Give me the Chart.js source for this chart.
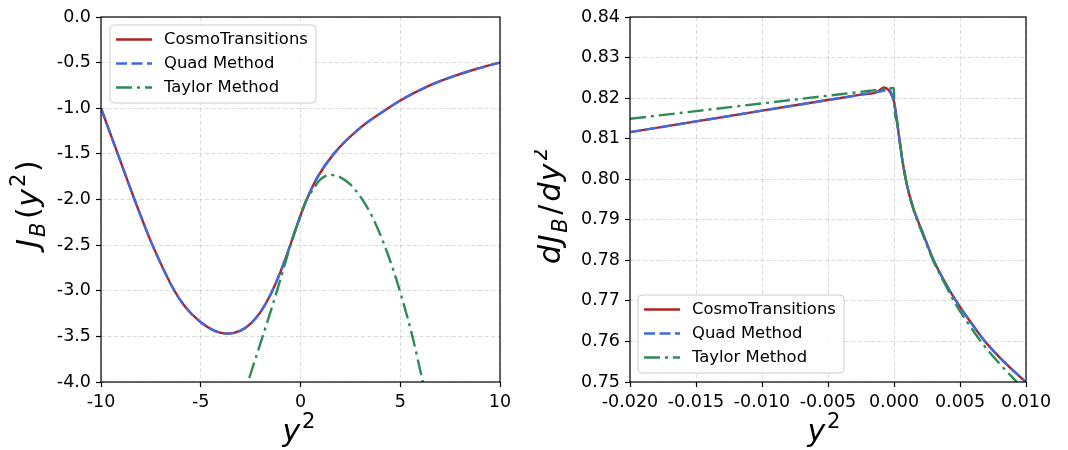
<!DOCTYPE html>
<html>
<head>
<meta charset="utf-8">
<script src="https://cdn.jsdelivr.net/npm/chart.js@4.4.1/dist/chart.umd.min.js"></script>
<style>
  body { margin: 0; background: #fff; width: 1068px; height: 450px; display: flex; }
  canvas { display: block; }
</style>
</head>
<body>
<canvas id="left" width="534" height="450"></canvas>
<canvas id="right" width="534" height="450"></canvas>
<script>
// ---- data ----
const seriesNames = ['CosmoTransitions', 'Quad Method', 'Taylor Method'];

// left panel: J_B(y^2)
const jbX  = [-10, -9.16, -8.32, -7.42, -6.32, -5.78, -5.03, -4.3, -3.68, -3.0, -2.5, -2.0, -1.5, -1.0, -0.5, 0, 0.3, 0.84, 1.67, 3.02, 4.39, 5.0, 6.37, 7.54, 8.8, 10];
const ctJb = [-1.0, -1.5, -2.0, -2.5, -3.0, -3.175, -3.34, -3.44, -3.47, -3.436, -3.361, -3.231, -3.041, -2.791, -2.491, -2.175, -2.005, -1.76, -1.5, -1.21, -1.0, -0.915, -0.76, -0.66, -0.57, -0.5];
const quadJb = [-1.0, -1.5, -2.0, -2.5, -3.0, -3.175, -3.34, -3.44, -3.47, -3.436, -3.361, -3.231, -3.041, -2.791, -2.491, -2.175, -2.005, -1.76, -1.5, -1.21, -1.0, -0.915, -0.76, -0.66, -0.57, -0.5];
const taylorX  = [-3.0, -2.63, -2.0, -1.5, -1.0, -0.5, 0, 0.3, 0.6, 1.0, 1.5, 2.0, 2.5, 3.07, 3.6, 4.15, 4.6, 5.03, 5.61, 6.08, 6.4];
const taylorJb = [-4.26, -4.0, -3.57, -3.23, -2.87, -2.5, -2.175, -2.005, -1.9, -1.78, -1.73, -1.757, -1.835, -1.99, -2.19, -2.467, -2.74, -3.038, -3.5, -3.95, -4.26];

// right panel: dJ_B/dy^2
const ctDX = [-0.02, -0.015, -0.01, -0.005, -0.0025, -0.0013, -0.00076, -0.00025, 0, 0.00018, 0.00038, 0.00063, 0.001, 0.0015, 0.0022, 0.003, 0.004, 0.0047, 0.0058, 0.0069, 0.0083, 0.01];
const ctDj = [0.8116, 0.81425, 0.8169, 0.81954, 0.82086, 0.8215, 0.8226, 0.8212, 0.8192, 0.8155, 0.8106, 0.8048, 0.7983, 0.7925, 0.7866, 0.78, 0.7738, 0.77, 0.7648, 0.76, 0.7551, 0.7499];
const quadDX = [-0.02, -0.015, -0.01, -0.005, -0.0025, -0.0013, -0.00035, 0, 0.00018, 0.00038, 0.00063, 0.001, 0.0015, 0.0022, 0.003, 0.004, 0.0047, 0.0058, 0.0069, 0.0083, 0.01];
const quadDj = [0.8116, 0.81425, 0.8169, 0.81954, 0.82086, 0.8215, 0.822, 0.8188, 0.8155, 0.8106, 0.8048, 0.7983, 0.7925, 0.7866, 0.78, 0.7738, 0.77, 0.7648, 0.76, 0.7551, 0.7499];
const taylorDX = [-0.02, -0.015, -0.01, -0.005, -0.002, -0.0005, 0, 0.00002, 0.0002, 0.0004, 0.00063, 0.001, 0.0015, 0.0022, 0.003, 0.004, 0.0047, 0.0058, 0.0066, 0.008, 0.0093, 0.0096];
const taylorDj = [0.8149, 0.8168, 0.8187, 0.8206, 0.82174, 0.8223, 0.8225, 0.8182, 0.8145, 0.8101, 0.8048, 0.7983, 0.7922, 0.7862, 0.7797, 0.7733, 0.769, 0.7636, 0.7599, 0.7545, 0.75, 0.7489];

// ---- style ----
const FONT = '"DejaVu Sans", sans-serif';
const colors = ['#b22222', '#4169e1', '#2e8b57'];
const dashes = [[], [11, 4.5], [16, 5, 3, 5]];

function pts(xs, ys) {
  return xs.map((x, i) => ({ x: x, y: ys[i] }));
}

function makeDatasets(sets) {
  return sets.map(([xs, ys], i) => ({
    label: seriesNames[i],
    data: pts(xs, ys),
    borderColor: colors[i],
    borderWidth: 2.4,
    borderDash: dashes[i],
    borderCapStyle: 'butt',
    pointRadius: 0,
    showLine: true,
    fill: false,
    cubicInterpolationMode: 'monotone',
    clip: 0,
    order: 3 - i
  }));
}

function fmt(digits) {
  return v => (Math.abs(v) < 1e-9 ? 0 : v).toFixed(digits);
}

function axis(min, max, step, digits, fit) {
  return {
    type: 'linear', min: min, max: max,
    ticks: {
      stepSize: step, color: '#000', font: { family: FONT, size: 17.5 },
      padding: 5, maxRotation: 0, autoSkip: false, callback: fmt(digits)
    },
    grid: { color: 'rgba(0,0,0,0.14)', lineWidth: 1, tickLength: 5, tickColor: '#000', tickWidth: 1.2 },
    border: { display: false, dash: [4, 2.5] },
    afterFit: fit
  };
}

// draws mathtext-like label: [text, italic, scale, shift(em), gapBefore(em)]
function drawMath(ctx, parts, size) {
  let w = 0;
  const items = parts.map(p => {
    const [t, it, sc, sh, gap] = p;
    ctx.font = (it ? 'italic ' : '') + (size * sc) + 'px ' + FONT;
    w += (gap || 0) * size;
    const item = { t: t, font: ctx.font, x: w, y: (sh || 0) * size };
    w += ctx.measureText(t).width;
    return item;
  });
  ctx.textAlign = 'left';
  ctx.textBaseline = 'alphabetic';
  items.forEach(it => {
    ctx.font = it.font;
    ctx.fillText(it.t, it.x - w / 2, it.y);
  });
}

const decor = {
  id: 'decor',
  afterDatasetsDraw(chart, args, o) {
    const { ctx, chartArea: a } = chart;
    ctx.save();
    // frame
    ctx.strokeStyle = '#000';
    ctx.lineWidth = 1.2;
    ctx.strokeRect(a.left, a.top, a.right - a.left, a.bottom - a.top);
    // legend box
    const lx = a.left + o.legend.dx;
    const ly = o.legend.dy >= 0 ? a.top + o.legend.dy : a.bottom + o.legend.dy - 78;
    ctx.beginPath();
    ctx.roundRect(lx, ly, 206, 78, 4);
    ctx.fillStyle = 'rgba(255,255,255,0.85)';
    ctx.fill();
    ctx.strokeStyle = '#cccccc';
    ctx.lineWidth = 1;
    ctx.stroke();
    chart.data.datasets.forEach((ds, i) => {
      const y = ly + 14.5 + i * 24;
      ctx.strokeStyle = ds.borderColor;
      ctx.lineWidth = ds.borderWidth;
      ctx.setLineDash(ds.borderDash);
      ctx.beginPath();
      ctx.moveTo(lx + 6, y);
      ctx.lineTo(lx + 42, y);
      ctx.stroke();
      ctx.setLineDash([]);
      ctx.fillStyle = '#000';
      ctx.font = '16.4px ' + FONT;
      ctx.textAlign = 'left';
      ctx.textBaseline = 'middle';
      ctx.fillText(ds.label, lx + 54, y);
    });
    ctx.restore();
  },
  afterDraw(chart, args, o) {
    const ctx = chart.ctx;
    ctx.save();
    ctx.fillStyle = '#000';
    ctx.translate(o.xTitlePos[0], o.xTitlePos[1]);
    drawMath(ctx, o.xTitle, 30);
    ctx.restore();
    ctx.save();
    ctx.fillStyle = '#000';
    ctx.translate(o.yTitlePos[0], o.yTitlePos[1]);
    ctx.rotate(-Math.PI / 2);
    drawMath(ctx, o.yTitle, 30);
    ctx.restore();
  }
};

const ySq = [['y', 1, 1, 0, 0], ['2', 0, 0.7, -0.42, 0.06]];

function build(id, datasets, xAxis, yAxis, decorOpts, pad) {
  return new Chart(document.getElementById(id), {
    type: 'scatter',
    data: { datasets: datasets },
    options: {
      responsive: false,
      animation: false,
      devicePixelRatio: 1,
      layout: { padding: pad },
      scales: { x: xAxis, y: yAxis },
      plugins: { legend: { display: false }, tooltip: { enabled: false }, decor: decorOpts }
    },
    plugins: [decor]
  });
}

build('left',
  makeDatasets([[jbX, ctJb], [jbX, quadJb], [taylorX, taylorJb]]),
  axis(-10, 10, 5, 0, s => { s.height = 68; }),
  axis(-4, 0, 0.5, 1, s => { s.width = 101; }),
  {
    legend: { dx: 9, dy: 8 },
    xTitle: ySq, xTitlePos: [299, 441],
    yTitle: [['J', 1, 1, 0, 0], ['B', 1, 0.7, 0.22, 0.06], ['(', 0, 1, 0, 0.12], ['y', 1, 1, 0, 0.02], ['2', 0, 0.7, -0.42, 0.07], [')', 0, 1, 0, 0.05]],
    yTitlePos: [38, 204]
  },
  { top: 17, right: 34, left: 0, bottom: 0 });

build('right',
  makeDatasets([[ctDX, ctDj], [quadDX, quadDj], [taylorDX, taylorDj]]),
  axis(-0.02, 0.01, 0.005, 3, s => { s.height = 68; }),
  axis(0.75, 0.84, 0.01, 2, s => { s.width = 96; }),
  {
    legend: { dx: 8, dy: -9 },
    xTitle: ySq, xTitlePos: [290, 441],
    yTitle: [['d', 1, 1, 0, 0], ['J', 1, 1, 0, 0.05], ['B', 1, 0.7, 0.22, 0.06], ['/', 0, 1, 0, 0.12], ['d', 1, 1, 0, 0.1], ['y', 1, 1, 0, 0.04], ['2', 0, 0.7, -0.42, 0.07]],
    yTitlePos: [26, 206]
  },
  { top: 17, right: 42, left: 0, bottom: 0 });
</script>
</body>
</html>
